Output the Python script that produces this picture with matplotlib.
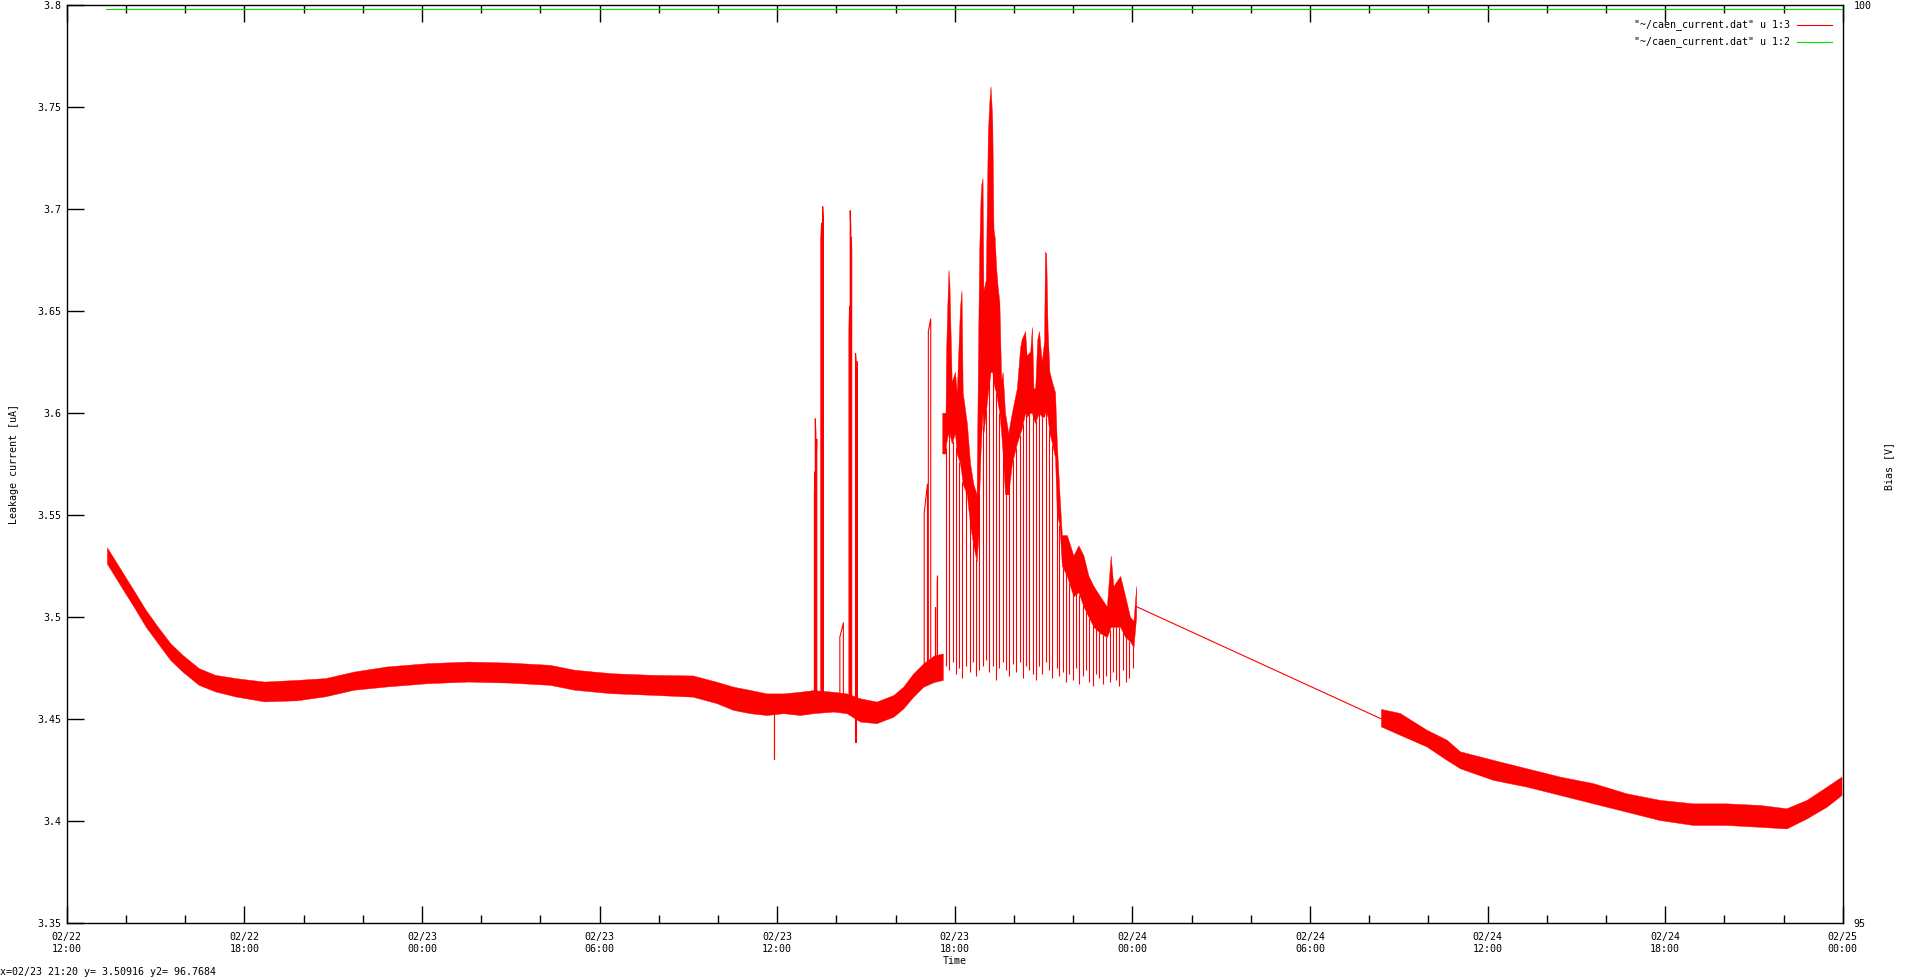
import matplotlib
matplotlib.use("Agg")
import matplotlib.pyplot as plt
import numpy as np

# hours since 02/22 12:00
x_ticks = [0, 6, 12, 18, 24, 30, 36, 42, 48, 54, 60]
x_labels = ["02/22\n12:00", "02/22\n18:00", "02/23\n00:00", "02/23\n06:00", "02/23\n12:00",
            "02/23\n18:00", "02/24\n00:00", "02/24\n06:00", "02/24\n12:00", "02/24\n18:00",
            "02/25\n00:00"]
y_ticks = [3.35, 3.4, 3.45, 3.5, 3.55, 3.6, 3.65, 3.7, 3.75, 3.8]
y_labels = ["3.35", "3.4", "3.45", "3.5", "3.55", "3.6", "3.65", "3.7", "3.75", "3.8"]

# leakage current, quiet part before the unstable period (upper / lower edge of the noise band)
band1_t = [1.36, 1.84, 2.26, 2.67, 3.08, 3.50, 3.91, 4.46, 5.01, 5.70, 6.67, 7.77, 8.74, 9.70,
           10.81, 12.18, 13.56, 14.94, 16.32, 17.15, 18.39, 19.77, 21.15, 21.96, 22.52, 23.08,
           23.65, 24.21, 24.77, 25.22, 25.90, 26.35, 26.80, 27.36, 27.93, 28.26, 28.60, 28.94,
           29.30, 29.60]
band1_hi = [3.534, 3.5228, 3.513, 3.5033, 3.495, 3.487, 3.4813, 3.4748, 3.4715, 3.4699, 3.4682,
            3.469, 3.4699, 3.4731, 3.4756, 3.4772, 3.478, 3.4775, 3.4764, 3.474, 3.4723, 3.4715,
            3.4712, 3.4681, 3.4657, 3.4641, 3.4624, 3.4624, 3.4632, 3.464, 3.4632, 3.4624, 3.460,
            3.4584, 3.4616, 3.4657, 3.4722, 3.4771, 3.481, 3.482]
band1_lo = [3.526, 3.5147, 3.505, 3.4951, 3.487, 3.4788, 3.4731, 3.4666, 3.4634, 3.4609, 3.4585,
            3.459, 3.461, 3.4642, 3.4658, 3.4674, 3.4682, 3.4677, 3.4666, 3.4642, 3.4625, 3.4617,
            3.4608, 3.4576, 3.4543, 3.4527, 3.4518, 3.4527, 3.4518, 3.4527, 3.4535, 3.4527, 3.4486,
            3.4478, 3.451, 3.455, 3.4608, 3.4657, 3.468, 3.469]

# isolated spikes / glitches: start, end, value at start, value at end, baseline
pulse_t0 = [23.90, 25.26, 25.29, 25.32, 25.48, 25.51, 25.54, 26.12, 26.43, 26.47, 26.50, 26.64,
            26.65, 26.69, 28.97, 29.11, 29.34, 29.41]
pulse_t1 = [23.91, 25.28, 25.31, 25.34, 25.50, 25.53, 25.56, 26.24, 26.45, 26.49, 26.52, 26.65,
            26.67, 26.71, 29.08, 29.19, 29.35, 29.42]
pulse_v0 = [3.430, 3.560, 3.597, 3.575, 3.685, 3.693, 3.701, 3.490, 3.640, 3.699, 3.686, 3.4387,
            3.629, 3.620, 3.551, 3.640, 3.505, 3.516]
pulse_v1 = [3.430, 3.571, 3.590, 3.587, 3.691, 3.690, 3.695, 3.497, 3.652, 3.690, 3.680, 3.4387,
            3.625, 3.625, 3.565, 3.646, 3.505, 3.520]
pulse_base = [3.457, 3.458, 3.458, 3.458, 3.458, 3.458, 3.458, 3.458, 3.457, 3.457, 3.457, 3.455,
              3.455, 3.455, 3.472, 3.474, 3.475, 3.475]

# unstable period: envelope of the raised current
mass_t = [29.58, 29.69, 29.71, 29.75, 29.79, 29.82, 29.90, 30.01, 30.07, 30.18, 30.23, 30.27,
          30.41, 30.52, 30.63, 30.74, 30.80, 30.83, 30.87, 30.90, 30.94, 30.97, 31.05, 31.12,
          31.17, 31.21, 31.24, 31.27, 31.31, 31.35, 31.40, 31.45, 31.51, 31.57, 31.62, 31.70,
          31.81, 31.93, 32.10, 32.21, 32.26, 32.38, 32.43, 32.55, 32.61, 32.66, 32.72, 32.79,
          32.85, 32.94, 33.02, 33.05, 33.09, 33.14, 33.20, 33.29, 33.39, 33.45, 33.54, 33.62,
          33.79, 33.90, 34.01, 34.18, 34.35, 34.52, 34.69, 34.91, 35.14, 35.27, 35.36, 35.59,
          35.76, 35.92, 36.04, 36.13]
mass_hi = [3.600, 3.600, 3.630, 3.652, 3.670, 3.664, 3.615, 3.620, 3.610, 3.652, 3.660, 3.610,
           3.595, 3.575, 3.565, 3.560, 3.645, 3.680, 3.704, 3.712, 3.715, 3.660, 3.665, 3.737,
           3.7525, 3.760, 3.7525, 3.742, 3.690, 3.686, 3.671, 3.662, 3.654, 3.616, 3.620, 3.600,
           3.590, 3.600, 3.612, 3.632, 3.636, 3.640, 3.628, 3.630, 3.642, 3.612, 3.612, 3.636,
           3.640, 3.625, 3.635, 3.679, 3.678, 3.640, 3.620, 3.615, 3.610, 3.585, 3.560, 3.540,
           3.540, 3.535, 3.530, 3.535, 3.530, 3.520, 3.515, 3.510, 3.505, 3.530, 3.515, 3.520,
           3.510, 3.500, 3.498, 3.515]
mass_lo = [3.580, 3.580, 3.585, 3.588, 3.590, 3.590, 3.585, 3.590, 3.580, 3.575, 3.570, 3.565,
           3.560, 3.545, 3.535, 3.527, 3.540, 3.560, 3.580, 3.590, 3.600, 3.590, 3.600, 3.610,
           3.615, 3.620, 3.620, 3.620, 3.615, 3.612, 3.610, 3.605, 3.600, 3.590, 3.580, 3.560,
           3.560, 3.575, 3.585, 3.590, 3.592, 3.600, 3.598, 3.600, 3.600, 3.597, 3.595, 3.598,
           3.600, 3.598, 3.598, 3.600, 3.600, 3.598, 3.590, 3.585, 3.578, 3.550, 3.545, 3.525,
           3.520, 3.515, 3.510, 3.512, 3.505, 3.500, 3.495, 3.492, 3.490, 3.495, 3.495, 3.495,
           3.490, 3.488, 3.485, 3.500]

# short drops back to the baseline during the unstable period
drop_t = [29.70, 29.81, 29.93, 30.05, 30.16, 30.26, 30.37, 30.50,
          30.61, 30.72, 30.83, 30.96, 31.06, 31.17, 31.28, 31.40, 31.51,
          31.62, 31.72, 31.85, 31.96, 32.06, 32.19, 32.30, 32.41, 32.52, 32.63,
          32.74, 32.85, 32.96, 33.09, 33.19, 33.30, 33.44, 33.54, 33.65, 33.76,
          33.87, 33.98, 34.10, 34.21, 34.33, 34.44, 34.55, 34.66, 34.78, 34.89, 35.00,
          35.11, 35.23, 35.34, 35.45, 35.55, 35.68, 35.79, 35.90, 36.02]
drop_v = [3.476, 3.474, 3.478, 3.472, 3.475, 3.470, 3.476, 3.473,
          3.478, 3.471, 3.474, 3.476, 3.479, 3.473, 3.476, 3.469, 3.475,
          3.478, 3.474, 3.471, 3.477, 3.473, 3.478, 3.470, 3.476, 3.474, 3.472,
          3.469, 3.476, 3.472, 3.478, 3.474, 3.470, 3.475, 3.471, 3.473, 3.468,
          3.472, 3.469, 3.475, 3.467, 3.471, 3.474, 3.468, 3.466, 3.472, 3.470, 3.467,
          3.471, 3.468, 3.473, 3.469, 3.466, 3.474, 3.468, 3.470, 3.475]

# no data between these two points, gnuplot just joins them
gap_t = [36.13, 44.40]
gap_v = [3.505, 3.450]

band2_t = [44.40, 45.04, 45.94, 46.62, 47.07, 48.19, 49.32, 50.45, 51.57, 52.70, 53.82, 54.95,
           56.08, 57.20, 58.10, 58.78, 59.46, 59.96]
band2_hi = [3.4548, 3.4528, 3.4446, 3.4397, 3.434, 3.4298, 3.4257, 3.4216, 3.4184, 3.4134,
            3.4102, 3.4085, 3.4085, 3.4077, 3.4061, 3.4102, 3.4167, 3.4216]
band2_lo = [3.4462, 3.4421, 3.4364, 3.4298, 3.4257, 3.42, 3.4167, 3.4126, 3.4085, 3.4044,
            3.4003, 3.3979, 3.3979, 3.397, 3.3962, 3.4011, 3.4069, 3.4126]

# bias voltage (right axis)
bias_t = [1.33, 59.96]
bias_v = [99.975, 99.975]

RED = "#ff0000"
GREEN = "#00e000"
FONT = "DejaVu Sans Mono"
FS = 7.2

plt.rcParams["font.family"] = FONT
plt.rcParams["font.size"] = FS

W, H = 1920, 977
fig = plt.figure(figsize=(W / 100, H / 100), dpi=100)
x0, x1, y0, y1 = 66.7, 1842.7, 4.7, 922.7
ax = fig.add_axes([x0 / W, 1 - y1 / H, (x1 - x0) / W, (y1 - y0) / H])

# red trace
lw = 0.8
ax.fill_between(band1_t, band1_lo, band1_hi, color=RED, lw=0.3, edgecolor=RED)
for t0, t1, v0, v1, b in zip(pulse_t0, pulse_t1, pulse_v0, pulse_v1, pulse_base):
    ax.plot([t0, t0, t1, t1], [b, v0, v1, b], color=RED, lw=lw)
ax.fill_between(mass_t, mass_lo, mass_hi, color=RED, lw=0.3, edgecolor=RED)
drop_top = np.interp(drop_t, mass_t, mass_lo)
ax.vlines(drop_t, drop_v, drop_top, color=RED, lw=lw)
ax.plot(gap_t, gap_v, color=RED, lw=lw)
ax.fill_between(band2_t, band2_lo, band2_hi, color=RED, lw=0.3, edgecolor=RED)

ax.set_xlim(0, 60)
ax.set_ylim(3.35, 3.8)
ax.set_xticks(x_ticks)
ax.set_xticklabels(x_labels, linespacing=1.3)
ax.set_xticks(np.arange(0, 61, 2), minor=True)
ax.set_yticks(y_ticks)
ax.set_yticklabels(y_labels)
ax.tick_params(axis="x", which="major", direction="in", length=12, width=1.0, top=True, pad=6.5)
ax.tick_params(axis="x", which="minor", direction="in", length=6, width=1.0, top=True)
ax.tick_params(axis="y", which="major", direction="in", length=12, width=1.0, right=True,
               labelright=False, pad=4)
for s in ax.spines.values():
    s.set_linewidth(1.0)

# bias on the second axis
ax2 = ax.twinx()
ax2.plot(bias_t, bias_v, color=GREEN, lw=lw)
ax2.set_ylim(95, 100)
ax2.set_yticks([95, 100])
ax2.set_yticklabels(["95", "100"])
ax2.tick_params(axis="y", length=0, pad=8)
for s in ax2.spines.values():
    s.set_visible(False)

# gnuplot style key: text right aligned, sample line after it
key = [('"~/caen_current.dat" u 1:3', RED, 0.9779),
       ('"~/caen_current.dat" u 1:2', GREEN, 0.9597)]
for label, col, ky in key:
    ax.text(0.9703, ky, label, transform=ax.transAxes, ha="right", va="center", fontsize=FS)
    ax.plot([0.9743, 0.9940], [ky, ky], transform=ax.transAxes, color=col, lw=lw)

fig.text(14 / W, 1 - 463.7 / H, "Leakage current [uA]", rotation=90, ha="center", va="center")
fig.text(1889 / W, 1 - 466 / H, "Bias [V]", rotation=90, ha="center", va="center")
fig.text(954.7 / W, 1 - 961 / H, "Time", ha="center", va="center")
fig.text(0.0, 1 - 971.7 / H, "x=02/23 21:20 y= 3.50916 y2= 96.7684", ha="left", va="center")

fig.savefig("out.png", dpi=100, facecolor="white")
